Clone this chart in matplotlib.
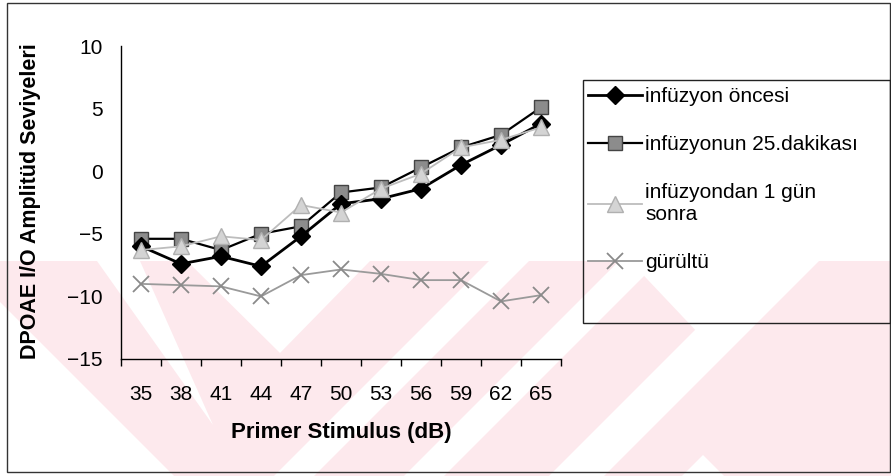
import numpy as np
import matplotlib.pyplot as plt
from matplotlib.patches import Polygon, Rectangle

plt.rcParams['font.family'] = ['Liberation Sans', 'DejaVu Sans']

# Data
stimulus = ['35', '38', '41', '44', '47', '50', '53', '56', '59', '62', '65']
oncesi = [-6.0, -7.4, -6.8, -7.6, -5.2, -2.6, -2.2, -1.4, 0.5, 2.1, 3.8]
dakika25 = [-5.4, -5.4, -6.3, -5.0, -4.4, -1.7, -1.3, 0.3, 1.9, 2.9, 5.1]
gun1 = [-6.3, -6.0, -5.2, -5.5, -2.7, -3.3, -1.4, -0.2, 1.9, 2.5, 3.5]
gurultu = [-9.0, -9.1, -9.2, -10.0, -8.3, -7.85, -8.2, -8.7, -8.7, -10.4, -9.9]

W, H = 891, 476
fig = plt.figure(figsize=(W / 100, H / 100), dpi=100)


def px(x, y):
    # pixel coords (origin top left) -> figure fraction
    return (x / W, 1 - y / H)


def add_poly(pts, color, z):
    fig.patches.append(Polygon([px(*p) for p in pts], closed=True, transform=fig.transFigure,
                               facecolor=color, edgecolor='none', zorder=z))


# faint pink watermark in the lower part of the page, with white cut-outs
pink = '#fde9ed'
add_poly([(0, 261), (W, 261), (W, H), (0, H)], pink, -3)
cutouts = [
    [(0, 302), (174, 476), (0, 476)],
    [(97, 261), (140, 261), (213, 425)],
    [(187, 261), (370, 261), (280, 353)],
    [(489, 261), (529, 261), (314, 476), (274, 476)],
    [(619, 261), (659, 261), (444, 476), (404, 476)],
    [(764, 261), (819, 261), (604, 476), (549, 476)],
    [(630, 261), (770, 261), (700, 335)],
    [(682, 476), (703, 455), (724, 476)],
]
for pts in cutouts:
    add_poly(pts, 'white', -2)

# outer border of the chart area
fig.patches.append(Rectangle(px(7, 472), 883 / W, 469 / H, transform=fig.transFigure,
                             fill=False, edgecolor='#333333', linewidth=1.0, zorder=-1))

ax = fig.add_axes([121 / W, 1 - 359 / H, 440 / W, 313 / H])
ax.set_facecolor('none')
x = np.arange(len(stimulus))

ax.plot(x, oncesi, color='black', lw=2.0, marker='D', ms=9, mfc='black', mec='black',
        label='infüzyon öncesi', zorder=4)
ax.plot(x, dakika25, color='black', lw=1.6, marker='s', ms=10, mfc='#8c8c8c', mec='#444444',
        label='infüzyonun 25.dakikası', zorder=3)
ax.plot(x, gun1, color='#bdbdbd', lw=1.3, marker='^', ms=11, mfc='#d4d4d4', mec='#b0b0b0',
        label='infüzyondan 1 gün\nsonra', zorder=5)
ax.plot(x, gurultu, color='#9a9a9a', lw=1.3, marker='x', ms=11, mew=1.3, mec='#8a8a8a',
        label='gürültü', zorder=2)

ax.set_xlim(-0.5, len(stimulus) - 0.5)
ax.set_ylim(-15, 10)
ax.set_yticks([-15, -10, -5, 0, 5, 10])
ax.set_xticks(x)
ax.set_xticklabels(stimulus)
ax.set_xticks(np.arange(-0.5, len(stimulus)), minor=True)
ax.tick_params(axis='x', which='major', length=0, pad=19, labelsize=15)
ax.tick_params(axis='x', which='minor', length=5, width=1, direction='out')
ax.tick_params(axis='y', length=0, pad=13, labelsize=15)

for side in ['top', 'right']:
    ax.spines[side].set_visible(False)
ax.spines['left'].set_linewidth(1.0)
ax.spines['bottom'].set_linewidth(1.0)

ax.set_xlabel('Primer Stimulus (dB)', fontsize=16, fontweight='bold', labelpad=13)
ax.set_ylabel('DPOAE I/O Amplitüd Seviyeleri', fontsize=15.5, fontweight='bold')
ax.yaxis.set_label_coords(-0.182, 0.505)

# legend frame and entries
fig.patches.append(Rectangle(px(583, 323), 307 / W, 243 / H, transform=fig.transFigure,
                             fill=False, edgecolor='#222222', linewidth=1.0, zorder=1))
leg = ax.legend(loc='upper left', bbox_to_anchor=px(588, 87), bbox_transform=fig.transFigure,
                frameon=False, fontsize=15, handlelength=2.6, handletextpad=0.15,
                labelspacing=1.4, borderaxespad=0, borderpad=0)

fig.savefig('out.png', dpi=100)
